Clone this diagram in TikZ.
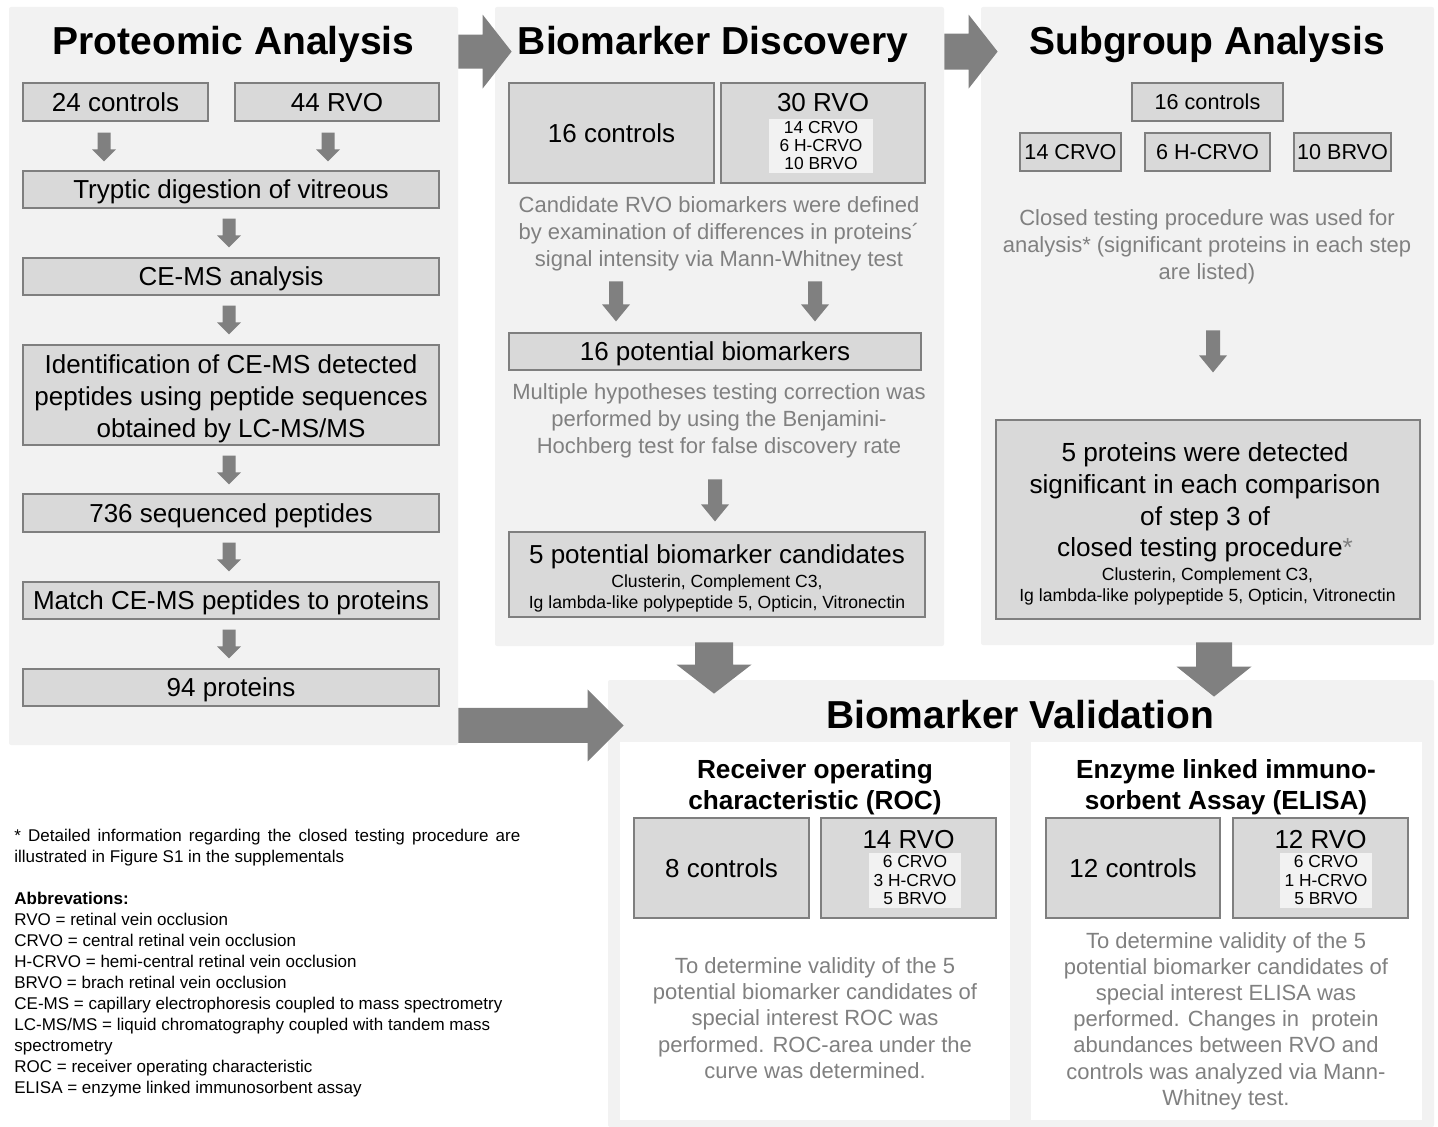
\documentclass[tikz,border=0pt]{standalone}
\usepackage{fontspec}
\setmainfont{Liberation Sans}
\usetikzlibrary{calc}
\definecolor{panelbg}{HTML}{F2F2F2}
\definecolor{boxfill}{HTML}{D9D9D9}
\definecolor{boxline}{HTML}{7F7F7F}
\definecolor{arrowgray}{HTML}{808080}
\definecolor{desc}{HTML}{808080}
\newcommand\fTitle{\fontsize{19.5}{23}\selectfont}
\newcommand\fBody{\fontsize{13}{16}\selectfont}
\newcommand\fBodyL{\fontsize{13.1}{15.8}\selectfont}
\newcommand\fMid{\fontsize{10.8}{13}\selectfont}
\newcommand\fDesc{\fontsize{11}{13.5}\selectfont}
\newcommand\fDescB{\fontsize{11}{13.1}\selectfont}
\newcommand\fSmall{\fontsize{8.7}{9}\selectfont}
\newcommand\fSmallR{\fontsize{8.7}{9.25}\selectfont}
\newcommand\fSmallB{\fontsize{8.8}{10.5}\selectfont}
\newcommand\fSub{\fontsize{13.1}{15.5}\selectfont}
\newcommand\fNote{\fontsize{8.5}{10.5}\selectfont}
\begin{document}
\begin{tikzpicture}[x=0.5pt,y=-0.5pt,
  panel/.style={fill=panelbg, draw=none, rounded corners=1pt, inner sep=0},
  box/.style={draw=boxline, line width=0.6pt, fill=boxfill, inner sep=0, align=center, font=\fBody},
  capc/.style={text height=9.3pt, text depth=0pt},
  capm/.style={text height=7.7pt, text depth=0pt},
  title/.style={font=\fTitle\bfseries, anchor=base, inner sep=0},
  desc/.style={font=\fDesc, text=desc, align=center, inner sep=0},
  plain/.style={inner sep=0, align=center},
  innerbox/.style={fill=panelbg, inner sep=0, align=center},
  vblk/.style n args={3}{to path={let \p1=(\tikztostart), \p2=(\tikztotarget) in
     (\x1-#1,\y1) -- (\x1+#1,\y1) -- (\x1+#1,\y2+#3) -- (\x1+#2,\y2+#3) -- (\x1,\y2)
     -- (\x1-#2,\y2+#3) -- (\x1-#1,\y2+#3) -- cycle}},
  hblk/.style n args={3}{to path={let \p1=(\tikztostart), \p2=(\tikztotarget) in
     (\x1,\y1+#1) -- (\x2-#3,\y1+#1) -- (\x2-#3,\y1+#2) -- (\x2,\y1)
     -- (\x2-#3,\y1-#2) -- (\x2-#3,\y1-#1) -- (\x1,\y1-#1) -- cycle}},
  sarr/.style={fill=arrowgray, vblk={3.25pt}{6pt}{6pt}},
  marr/.style={fill=arrowgray, vblk={3.5pt}{7pt}{8.5pt}}
]
\useasboundingbox (0,0) rectangle (1438,1127);

% panels
\node[panel, minimum width=224.5pt, minimum height=369pt] (p1) at (233.5,376) {};
\node[panel, minimum width=224.5pt, minimum height=319.5pt] (p2) at (719.5,326.5) {};
\node[panel, minimum width=226.5pt, minimum height=319pt] (p3) at (1207.5,326) {};
\node[panel, minimum width=413pt, minimum height=223.5pt] (p4) at (1021,903.5) {};
\node[fill=white, inner sep=0, minimum width=195pt, minimum height=189pt] (w1) at (815,931) {};
\node[fill=white, inner sep=0, minimum width=195.5pt, minimum height=189pt] (w2) at (1226.5,931) {};

% titles
\node[title] (t1) at (233.5,55) {Proteomic Analysis};
\node[title] (t2) at (713,55) {Biomarker Discovery};
\node[title] (t3) at (1207,55) {Subgroup Analysis};
\node[title] (t4) at (1020,728) {Biomarker Validation};

% panel 1
\node[box, capc, minimum width=92.5pt, minimum height=19pt] (c24) at (115.5,102) {24 controls};
\node[box, capc, minimum width=102pt, minimum height=19pt] (r44) at (337,102) {44 RVO};
\node[box, capc, minimum width=208pt, minimum height=18.5pt] (tryp) at (231,189.5) {Tryptic digestion of vitreous};
\node[box, capc, minimum width=208pt, minimum height=18.5pt] (cems) at (231,276.5) {CE-MS analysis};
\node[box, minimum width=208pt, minimum height=50pt] (ident) at (231,395) {};
\node[plain, font=\fBody] (identt) at (231,399) {Identification of CE-MS detected\\peptides using peptide sequences\\obtained by LC-MS/MS};
\node[box, capc, minimum width=208pt, minimum height=19pt] (seq) at (231,513) {736 sequenced peptides};
\node[box, capc, minimum width=208pt, minimum height=18.5pt] (match) at (231,600.5) {Match CE-MS peptides to proteins};
\node[box, capc, minimum width=208pt, minimum height=18.5pt] (prot) at (231,687.5) {94 proteins};

\fill[sarr] ([xshift=-5.75pt,yshift=-5.5pt]c24.south) to ([xshift=-5.75pt,yshift=4.5pt]tryp.north -| c24.south);
\fill[sarr] ([xshift=-4.5pt,yshift=-5.5pt]r44.south) to ([xshift=-4.5pt,yshift=4.5pt]tryp.north -| r44.south);
\fill[sarr] ([xshift=-1pt,yshift=-5pt]tryp.south) to ([xshift=-1pt,yshift=5pt]cems.north);
\fill[sarr] ([xshift=-1pt,yshift=-5pt]cems.south) to ([xshift=-1pt,yshift=5pt]ident.north);
\fill[sarr] ([xshift=-1pt,yshift=-5pt]ident.south) to ([xshift=-1pt,yshift=4.5pt]seq.north);
\fill[sarr] ([xshift=-1pt,yshift=-5pt]seq.south) to ([xshift=-1pt,yshift=5pt]match.north);
\fill[sarr] ([xshift=-1pt,yshift=-5pt]match.south) to ([xshift=-1pt,yshift=5pt]prot.north);

% panel 2
\node[box, capc, minimum width=102.5pt, minimum height=50pt] (c16) at (611.5,133) {16 controls};
\node[box, minimum width=102pt, minimum height=50pt] (r30) at (823,133) {};
\node[plain, font=\fBody, anchor=base] (r30t) at (823,112) {30 RVO};
\node[innerbox, font=\fSmall, minimum width=52pt, minimum height=27pt] (r30s) at (821,146) {14 CRVO\\6 H-CRVO\\10 BRVO};
\node[desc] (d1) at (719,234) {Candidate RVO biomarkers were defined\\by examination of differences in proteins´\\signal intensity via Mann-Whitney test};
\node[box, capc, minimum width=206pt, minimum height=18.5pt] (pot16) at (715,351.5) {16 potential biomarkers};
\fill[marr] ([xshift=-49.5pt,yshift=25.5pt]pot16.north) to ([xshift=-49.5pt,yshift=5.5pt]pot16.north);
\fill[marr] ([xshift=50pt,yshift=25.5pt]pot16.north) to ([xshift=50pt,yshift=5.5pt]pot16.north);
\node[desc] (d2) at (719,421) {Multiple hypotheses testing correction was\\performed by using the Benjamini-\\Hochberg test for false discovery rate};
\node[box, minimum width=208pt, minimum height=42.5pt] (cand5) at (717,574.5) {};
\node[plain, font=\fBody] (cand5t) at (717,557) {5 potential biomarker candidates};
\node[plain, font=\fSmallB] (cand5l) at (717,593) {Clusterin, Complement C3,\\Ig lambda-like polypeptide 5, Opticin, Vitronectin};
\fill[marr] ([xshift=-1pt,yshift=26pt]cand5.north) to ([xshift=-1pt,yshift=5pt]cand5.north);

% panel 3
\node[box, capm, font=\fMid, minimum width=75.5pt, minimum height=19pt] (s16) at (1207.5,102) {16 controls};
\node[box, capm, font=\fMid, minimum width=50.5pt, minimum height=19pt] (s14) at (1070.5,152) {14 CRVO};
\node[box, capm, font=\fMid, minimum width=62.5pt, minimum height=19pt] (s6) at (1207.5,152) {6 H-CRVO};
\node[box, capm, font=\fMid, minimum width=48.5pt, minimum height=19pt] (s10) at (1342.5,152) {10 BRVO};
\node[desc] (d3) at (1207,246.5) {Closed testing procedure was used for\\analysis* (significant proteins in each step\\are listed)};
\node[box, minimum width=212pt, minimum height=99.5pt] (sig5) at (1208,519.5) {};
\node[plain, font=\fBodyL] (sig5t) at (1205,502.5) {5 proteins were detected\\significant in each comparison\\of step 3 of\\closed testing procedure\textcolor{desc}{*}};
\node[plain, font=\fSmallB] (sig5l) at (1207.5,586.5) {Clusterin, Complement C3,\\Ig lambda-like polypeptide 5, Opticin, Vitronectin};
\fill[marr] ([xshift=2.5pt,yshift=44.5pt]sig5.north) to ([xshift=2.5pt,yshift=23.5pt]sig5.north);

% panel 4
\node[plain, font=\fSub\bfseries] (roct) at (815,787.5) {Receiver operating\\characteristic (ROC)};
\node[plain, font=\fSub\bfseries] (elit) at (1226,787.5) {Enzyme linked immuno-\\sorbent Assay (ELISA)};
\node[box, capc, minimum width=87.5pt, minimum height=50pt] (c8) at (721.5,868) {8 controls};
\node[box, minimum width=87.5pt, minimum height=50pt] (r14) at (908.5,868) {};
\node[plain, font=\fBody, anchor=base] (r14t) at (908.5,848) {14 RVO};
\node[innerbox, font=\fSmallR, minimum width=46pt, minimum height=27.5pt] (r14s) at (915,880.5) {6 CRVO\\3 H-CRVO\\5 BRVO};
\node[box, capc, minimum width=87pt, minimum height=50pt] (c12) at (1133,868) {12 controls};
\node[box, minimum width=87.5pt, minimum height=50pt] (r12) at (1320.5,868) {};
\node[plain, font=\fBody, anchor=base] (r12t) at (1320.5,848) {12 RVO};
\node[innerbox, font=\fSmallR, minimum width=46pt, minimum height=27.5pt] (r12s) at (1326,880.5) {6 CRVO\\1 H-CRVO\\5 BRVO};
\node[desc, font=\fDescB] (dr) at (815,1018) {To determine validity of the 5\\potential biomarker candidates of\\special interest ROC was\\performed. ROC-area under the\\curve was determined.};
\node[desc, font=\fDescB] (de) at (1226,1021) {To determine validity of the 5\\potential biomarker candidates of\\special interest ELISA was\\performed. Changes in\ \ protein\\abundances between RVO and\\controls was analyzed via Mann-\\Whitney test.};

% big arrows
\fill[arrowgray, hblk={8.5pt}{18.5pt}{14.5pt}] ([yshift=-22.5pt]p1.north east) to ([xshift=8.5pt,yshift=-22.5pt]p2.north west);
\fill[arrowgray, hblk={9pt}{18.5pt}{14.5pt}] ([yshift=-22.5pt]p2.north east) to ([xshift=8.5pt,yshift=-22.5pt]p3.north west);
\fill[arrowgray, hblk={8.75pt}{18pt}{18pt}] ([yshift=10pt]p1.south east) to ([xshift=8pt,yshift=-22.5pt]p4.north west);
\fill[arrowgray, vblk={9.5pt}{18.75pt}{14.5pt}] ([xshift=-2.75pt,yshift=2pt]p2.south) to ([xshift=-2.75pt,yshift=-7pt]p2.south |- p4.north);
\fill[arrowgray, vblk={9pt}{18.75pt}{15pt}] ([xshift=3.25pt,yshift=1.5pt]p3.south) to ([xshift=3.25pt,yshift=-8.5pt]p3.south |- p4.north);

% footnote
\node[anchor=north west, align=left, inner sep=0, font=\fNote] (note) at (14,829) {\spaceskip=0.4em plus 0.2em\makebox[253pt][s]{* Detailed information regarding the closed testing procedure are}\\
illustrated in Figure S1 in the supplementals\\[10.5pt]
\textbf{Abbrevations:}\\
RVO = retinal vein occlusion\\
CRVO = central retinal vein occlusion\\
H-CRVO = hemi-central retinal vein occlusion\\
BRVO = brach retinal vein occlusion\\
CE-MS = capillary electrophoresis coupled to mass spectrometry\\
LC-MS/MS = liquid chromatography coupled with tandem mass\\
spectrometry\\
ROC = receiver operating characteristic\\
ELISA = enzyme linked immunosorbent assay};
\end{tikzpicture}
\end{document}
